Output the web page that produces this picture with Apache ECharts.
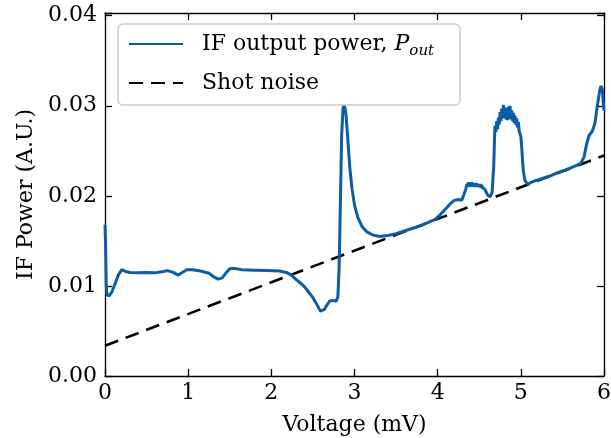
<!DOCTYPE html>
<html>
<head>
<meta charset="utf-8">
<script src="https://cdn.jsdelivr.net/npm/echarts@6/dist/echarts.min.js"></script>
<style>html,body{margin:0;padding:0;background:#fff;}#c{width:611px;height:438px;}</style>
</head>
<body>
<div id="c"></div>
<script>
// Data
const voltage = [0.000,0.006,0.015,0.025,0.05,0.08,0.12,0.16,0.20,0.25,0.30,0.40,0.50,0.60,0.70,0.75,0.82,0.88,0.93,0.98,1.05,1.15,1.25,1.31,1.36,1.41,1.46,1.50,1.55,1.65,1.80,1.95,2.10,2.18,2.24,2.30,2.35,2.40,2.45,2.50,2.55,2.59,2.61,2.64,2.67,2.70,2.74,2.78,2.80,2.815,2.83,2.845,2.86,2.872,2.885,2.90,2.92,2.945,2.97,3.00,3.04,3.09,3.15,3.22,3.30,3.40,3.50,3.60,3.70,3.80,3.90,3.97,4.03,4.10,4.16,4.20,4.25,4.29,4.31,
  4.34,4.35,4.36,4.37,4.38,4.39,4.40,4.41,4.42,4.43,4.44,4.45,4.46,4.47,4.48,4.49,4.50,4.51,4.52,4.53,4.54,4.55,4.57,4.60,4.63,4.655,
  4.675,4.685,4.69,4.70,4.71,4.72,4.73,4.74,4.75,4.76,4.77,4.78,4.79,4.80,4.81,4.82,4.83,4.84,4.85,4.86,4.87,4.88,4.89,4.90,4.91,4.92,4.93,4.94,4.95,4.96,4.97,4.98,4.99,5.00,5.01,5.02,5.03,
  5.05,5.08,5.15,5.25,5.35,5.45,5.55,5.65,5.72,5.76,5.79,5.82,5.86,5.89,5.92,5.95,5.965,5.98,5.99,6.00];
const ifPower = [0.0168,0.0150,0.0100,0.0090,0.0089,0.0093,0.0102,0.0112,0.0118,0.0116,0.0115,0.01145,0.0115,0.01145,0.0116,0.0117,0.0115,0.0112,0.0115,0.0118,0.0118,0.01165,0.0114,0.0110,0.01075,0.0109,0.0115,0.0119,0.01195,0.0118,0.01175,0.0117,0.01165,0.0115,0.0112,0.0107,0.0103,0.0099,0.0093,0.0087,0.0079,0.0072,0.0070,0.0074,0.0079,0.0083,0.0084,0.0083,0.0088,0.0120,0.0190,0.0265,0.0295,0.0302,0.0298,0.0288,0.0262,0.0230,0.0208,0.0190,0.0176,0.0166,0.0160,0.01565,0.0155,0.0156,0.0158,0.0161,0.0164,0.0167,0.0171,0.0174,0.0179,0.0186,0.0192,0.0195,0.0196,0.0195,0.0200,
  0.0208,0.0213,0.0210,0.0215,0.0211,0.0214,0.0210,0.0215,0.0211,0.0214,0.0210,0.0214,0.0211,0.0214,0.0210,0.0213,0.0210,0.0213,0.0209,0.0212,0.0209,0.0211,0.0207,0.0201,0.0199,0.0204,
  0.0235,0.0268,0.0278,0.0271,0.0283,0.0274,0.0287,0.0279,0.0293,0.0283,0.0297,0.0286,0.0301,0.0287,0.0298,0.0285,0.0296,0.0284,0.0299,0.0286,0.0300,0.0285,0.0295,0.0283,0.0292,0.0281,0.0289,0.0279,0.0286,0.0276,0.0282,0.0272,0.0274,0.0266,0.0255,0.0240,0.0228,
  0.0217,0.0213,0.0216,0.0219,0.0222,0.0226,0.0229,0.0233,0.0236,0.0243,0.0257,0.0267,0.0272,0.0280,0.0300,0.0318,0.0322,0.0318,0.0305,0.0295];
const shotVoltage = [0, 6];
const shotPower = [0.00336, 0.02448];
const xTicks = [0, 1, 2, 3, 4, 5, 6];
const yTicks = [0.00, 0.01, 0.02, 0.03, 0.04];

const FONT = 'DejaVu Serif';
const chart = echarts.init(document.getElementById('c'), null, {renderer: 'canvas'});

const axisCommon = {
  axisLine: {show: true, onZero: false, lineStyle: {color: '#000', width: 1.3}},
  axisTick: {show: true, inside: true, length: 7, lineStyle: {color: '#000', width: 1.3}},
  splitLine: {show: false}
};

const option = {
  animation: false,
  backgroundColor: '#fff',
  grid: {left: 105, right: 7, top: 13, bottom: 62, containLabel: false, outerBoundsMode: 'none'},
  xAxis: [
    Object.assign({
      type: 'value', min: 0, max: 6, interval: 1, position: 'bottom',
      name: 'Voltage (mV)', nameLocation: 'middle', nameGap: 38,
      nameTextStyle: {fontFamily: FONT, fontSize: 22, color: '#000'},
      axisLabel: {fontFamily: FONT, fontSize: 22, color: '#000', margin: 6,
        formatter: v => xTicks.includes(v) ? String(v) : ''}
    }, axisCommon),
    Object.assign({
      type: 'value', min: 0, max: 6, interval: 1, position: 'top',
      axisLabel: {show: false}
    }, axisCommon)
  ],
  yAxis: [
    Object.assign({
      type: 'value', min: 0, max: 0.0403, interval: 0.01, position: 'left',
      name: 'IF Power (A.U.)', nameLocation: 'middle', nameGap: 66,
      nameTextStyle: {fontFamily: FONT, fontSize: 22, color: '#000'},
      axisLabel: {fontFamily: FONT, fontSize: 22, color: '#000', margin: 8,
        formatter: v => {
          const t = yTicks.find(k => Math.abs(k - v) < 1e-6);
          return t === undefined ? '' : t.toFixed(2);
        }}
    }, axisCommon),
    Object.assign({
      type: 'value', min: 0, max: 0.0403, interval: 0.01, position: 'right',
      axisLabel: {show: false}
    }, axisCommon)
  ],
  legend: {
    orient: 'vertical', left: 118, top: 24,
    padding: [9, 26, 11, 10],
    itemWidth: 54, itemHeight: 14, itemGap: 13,
    borderColor: '#cccccc', borderWidth: 1.5, borderRadius: 5,
    backgroundColor: 'rgba(255,255,255,0.9)',
    itemStyle: {opacity: 0},
    data: ['IF output power, Pout', 'Shot noise'],
    formatter: name => name === 'IF output power, Pout' ? 'IF output power, {i|P}{s|out}' : name,
    textStyle: {
      fontFamily: FONT, fontSize: 22, color: '#000', padding: [0, 0, 0, 14],
      rich: {
        i: {fontFamily: FONT, fontSize: 22, fontStyle: 'italic', color: '#000', lineHeight: 30},
        s: {fontFamily: FONT, fontSize: 15, fontStyle: 'italic', color: '#000', verticalAlign: 'bottom', lineHeight: 15}
      }
    }
  },
  series: [
    {
      name: 'IF output power, Pout', type: 'line', xAxisIndex: 0, yAxisIndex: 0,
      data: voltage.map((v, i) => [v, ifPower[i]]),
      showSymbol: false, symbol: 'none', smooth: false,
      lineStyle: {color: '#0C5DA5', width: 3},
      itemStyle: {color: '#0C5DA5'},
      z: 3
    },
    {
      name: 'Shot noise', type: 'line', xAxisIndex: 0, yAxisIndex: 0,
      data: shotVoltage.map((v, i) => [v, shotPower[i]]),
      showSymbol: false, symbol: 'none',
      lineStyle: {color: '#000', width: 2.6, type: [14, 8]},
      itemStyle: {color: '#000'},
      z: 2
    }
  ]
};
chart.setOption(option);
</script>
</body>
</html>
